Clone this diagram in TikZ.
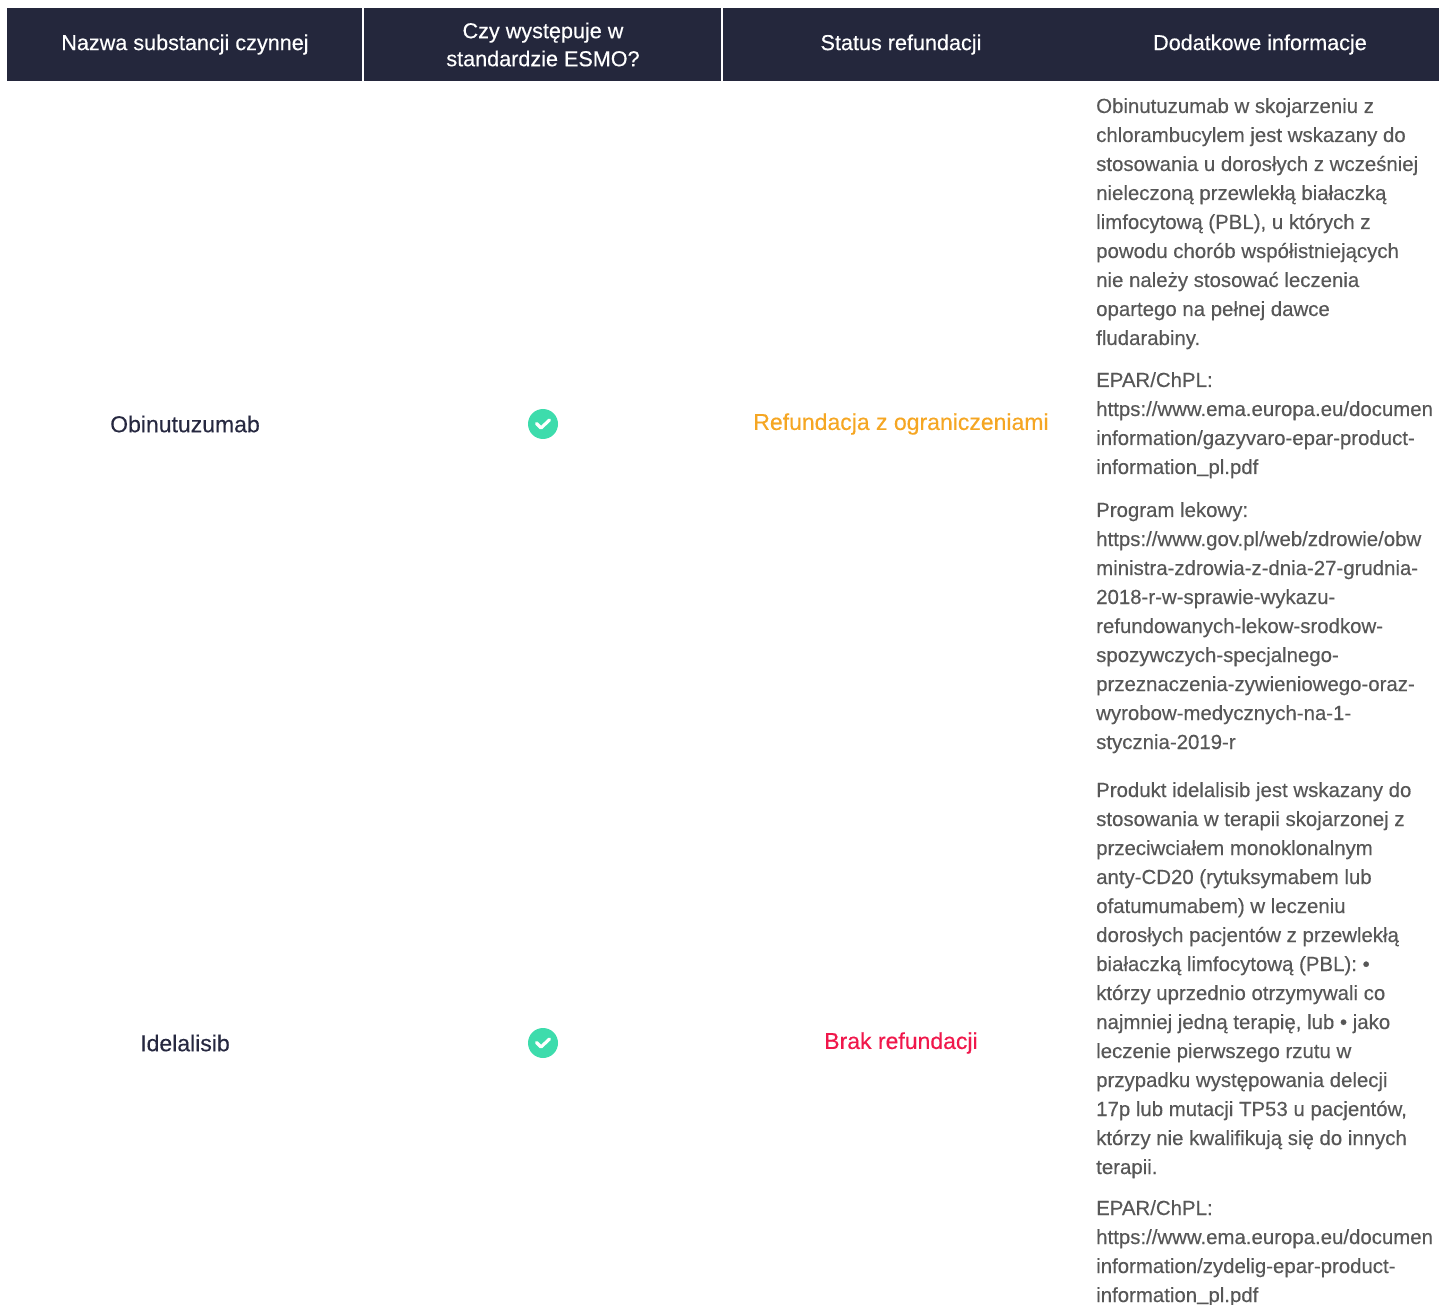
\documentclass[tikz,border=0pt]{standalone}
\usepackage{fontspec}
\setmainfont{Liberation Sans}
\newfontfamily\medfont{Liberation Sans}[FakeBold=0.35]
\definecolor{hdr}{HTML}{24273C}
\definecolor{navy}{HTML}{262840}
\definecolor{chk}{HTML}{3DDCAC}
\definecolor{orng}{HTML}{F5A623}
\definecolor{redt}{HTML}{F0174B}
\definecolor{gtxt}{HTML}{575757}
\newcommand{\usc}{\raisebox{2pt}{\_}}
\tikzset{
  hdrtext/.style={text=white,font=\medfont\fontsize{21.6}{28}\selectfont,align=center,inner sep=0pt},
  cellname/.style={text=navy,font=\medfont\fontsize{23}{28}\selectfont,inner sep=0pt},
  statustext/.style={font=\medfont\fontsize{23}{28}\selectfont,inner sep=0pt},
  infoline/.style={text=gtxt,font=\medfont\fontsize{20.4}{29}\selectfont,anchor=base west,inner sep=0pt},
  chkcircle/.style={circle,fill=chk,minimum size=30pt,inner sep=0pt},
}
\begin{document}
\begin{tikzpicture}[x=1pt,y=-1pt]
\useasboundingbox (0,0) rectangle (1452,1305);
\clip (0,0) rectangle (1452,1305);
% header
\fill[hdr] (7,8) rectangle (1439,81);
\draw[white,line width=1.2pt] (363,8) -- (363,81);
\draw[white,line width=1.2pt] (722,8) -- (722,81);
\node[hdrtext] (h1) at (185,44.5) {Nazwa substancji czynnej};
\node[hdrtext] (h2) at (543,44.5) {Czy występuje w\\standardzie ESMO?};
\node[hdrtext] (h3) at (901,44.5) {Status refundacji};
\node[hdrtext] (h4) at (1260,44.5) {Dodatkowe informacje};
% row 1
\node[cellname] (n1) at (185,424) {Obinutuzumab};
\node[chkcircle] (c1) at (543,424) {};
\draw[white,line width=3.2pt,line cap=round,line join=round] ([xshift=-6.5pt,yshift=0.5pt]c1.center) -- ([xshift=-2pt,yshift=-4pt]c1.center) -- ([xshift=6.5pt,yshift=4pt]c1.center);
\node[statustext,text=orng] (s1) at (901,424) {Refundacja z ograniczeniami};
\foreach \t [count=\i from 0] in {Obinutuzumab w skojarzeniu z,chlorambucylem jest wskazany do,stosowania u dorosłych z wcześniej,nieleczoną przewlekłą białaczką,{limfocytową (PBL), u których z},powodu chorób współistniejących,nie należy stosować leczenia,opartego na pełnej dawce,fludarabiny.}
  \node[infoline] (a\i) at (1096,{113+\i*29}) {\t};
\foreach \t [count=\i from 0] in {EPAR/ChPL:,https://www.ema.europa.eu/documen,information/gazyvaro-epar-product-,information\usc pl.pdf}
  \node[infoline] (b\i) at (1096,{387+\i*29}) {\t};
\foreach \t [count=\i from 0] in {Program lekowy:,https://www.gov.pl/web/zdrowie/obw,ministra-zdrowia-z-dnia-27-grudnia-,2018-r-w-sprawie-wykazu-,refundowanych-lekow-srodkow-,spozywczych-specjalnego-,przeznaczenia-zywieniowego-oraz-,wyrobow-medycznych-na-1-,stycznia-2019-r}
  \node[infoline] (p\i) at (1096,{517+\i*29}) {\t};
% row 2
\node[cellname] (n2) at (185,1043) {Idelalisib};
\node[chkcircle] (c2) at (543,1043) {};
\draw[white,line width=3.2pt,line cap=round,line join=round] ([xshift=-6.5pt,yshift=0.5pt]c2.center) -- ([xshift=-2pt,yshift=-4pt]c2.center) -- ([xshift=6.5pt,yshift=4pt]c2.center);
\node[statustext,text=redt] (s2) at (901,1043) {Brak refundacji};
\foreach \t [count=\i from 0] in {Produkt idelalisib jest wskazany do,stosowania w terapii skojarzonej z,przeciwciałem monoklonalnym,anty-CD20 (rytuksymabem lub,ofatumumabem) w leczeniu,dorosłych pacjentów z przewlekłą,białaczką limfocytową (PBL): •,którzy uprzednio otrzymywali co,{najmniej jedną terapię, lub • jako},leczenie pierwszego rzutu w,przypadku występowania delecji,{17p lub mutacji TP53 u pacjentów,},którzy nie kwalifikują się do innych,terapii.}
  \node[infoline] (d\i) at (1096,{797+\i*29}) {\t};
\foreach \t [count=\i from 0] in {EPAR/ChPL:,https://www.ema.europa.eu/documen,information/zydelig-epar-product-,information\usc pl.pdf}
  \node[infoline] (e\i) at (1096,{1215+\i*29}) {\t};
\end{tikzpicture}
\end{document}
